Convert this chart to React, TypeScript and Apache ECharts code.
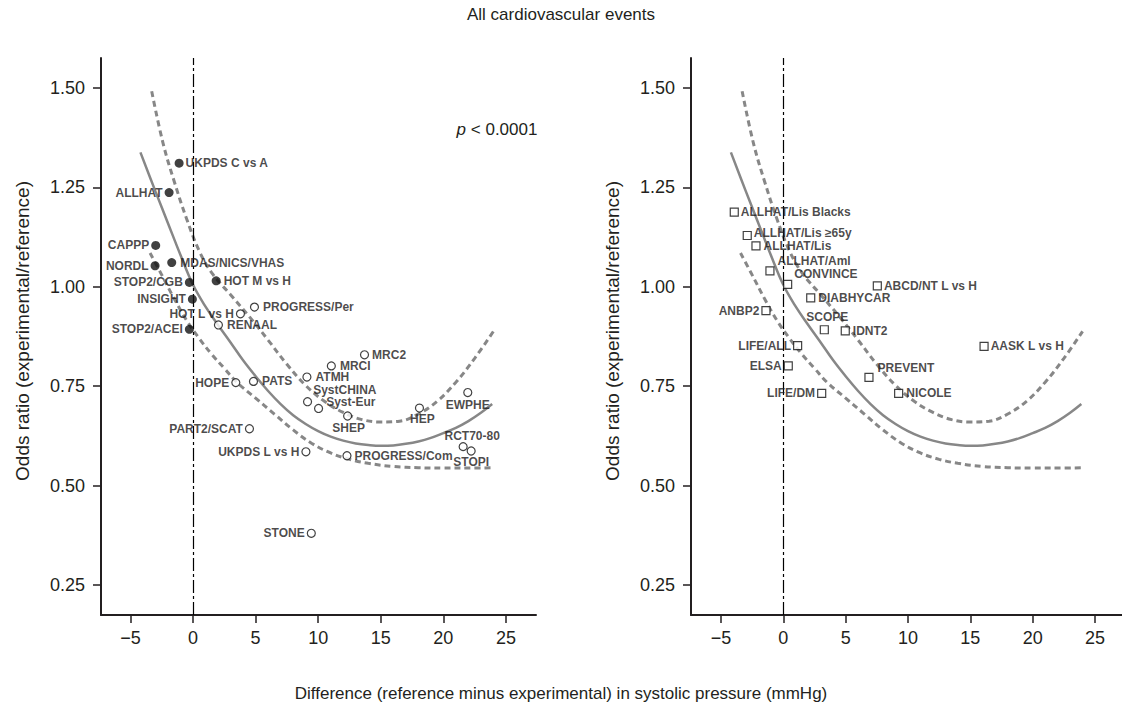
import React, { useEffect, useRef } from "react";
import * as echarts from "echarts";

// ---------- data ----------
const xTicks = [-5, 0, 5, 10, 15, 20, 25];
const yTicks = [0.25, 0.5, 0.75, 1.0, 1.25, 1.5];

// Left panel: filled circles
const filledNames = ["UKPDS C vs A", "ALLHAT", "CAPPP", "NORDL", "MDAS/NICS/VHAS", "STOP2/CGB", "HOT M vs H", "INSIGHT", "STOP2/ACEI"];
const filledX = [-1.11, -1.91, -2.98, -3.03, -1.7, -0.29, 1.85, -0.05, -0.29];
const filledY = [1.311, 1.237, 1.104, 1.053, 1.061, 1.011, 1.015, 0.969, 0.893];

// Left panel: open circles
const openNames = ["HOT L vs H", "PROGRESS/Per", "RENAAL", "MRC2", "MRCI", "ATMH", "HOPE", "PATS", "SystCHINA", "Syst-Eur", "SHEP", "HEP", "EWPHE", "PART2/SCAT", "RCT70-80", "STOPI", "UKPDS L vs H", "PROGRESS/Com", "STONE"];
const openX = [3.79, 4.91, 2.03, 13.7, 11.05, 9.1, 3.42, 4.83, 9.15, 10.03, 12.35, 18.09, 21.95, 4.51, 21.58, 22.22, 9.02, 12.3, 9.45];
const openY = [0.932, 0.949, 0.904, 0.829, 0.801, 0.773, 0.759, 0.762, 0.711, 0.694, 0.675, 0.695, 0.734, 0.643, 0.598, 0.587, 0.585, 0.575, 0.38];

// Right panel: open squares
const squareNames = ["ALLHAT/Lis Blacks", "ALLHAT/Lis \u226565y", "ALLHAT/Lis", "ALLHAT/Aml", "CONVINCE", "ABCD/NT L vs H", "DIABHYCAR", "ANBP2", "SCOPE", "IDNT2", "LIFE/ALL", "AASK L vs H", "ELSA", "PREVENT", "LIFE/DM", "NICOLE"];
const squareX = [-3.93, -2.89, -2.19, -1.07, 0.35, 7.54, 2.2, -1.39, 3.29, 4.97, 1.15, 16.1, 0.4, 6.87, 3.08, 9.25];
const squareY = [1.188, 1.129, 1.103, 1.04, 1.006, 1.0025, 0.972, 0.94, 0.892, 0.889, 0.852, 0.85, 0.801, 0.772, 0.732, 0.732];

// Fitted curve and its confidence limits
const solidCurve = [
  [-4.2, 1.338], [-3, 1.24], [-2, 1.16], [-1, 1.08], [0, 1.005], [1, 0.95], [2, 0.904], [3, 0.86],
  [4, 0.815], [5, 0.775], [6, 0.738], [7, 0.705], [8, 0.677], [9, 0.655], [10, 0.637], [11, 0.623],
  [12, 0.613], [13, 0.606], [14, 0.602], [15, 0.6], [16, 0.601], [17, 0.605], [18, 0.611], [19, 0.62],
  [20, 0.632], [21, 0.645], [22, 0.662], [23, 0.683], [23.9, 0.705],
];
const upperCurve = [
  [-3.3, 1.492], [-2.4, 1.362], [-1.5, 1.265], [-0.5, 1.17], [0.5, 1.09], [1.5, 1.035], [3, 0.98],
  [4.5, 0.925], [6, 0.866], [7.5, 0.805], [9, 0.752], [10.5, 0.712], [12, 0.684], [13.5, 0.666], [15, 0.66],
  [16.5, 0.662], [18, 0.68], [19.5, 0.712], [21, 0.76], [22.5, 0.82], [24, 0.888],
];
const lowerCurve = [
  [-3.43, 1.085], [-2.5, 1.03], [-1.5, 0.97], [-0.5, 0.915], [0.5, 0.87], [1.5, 0.83], [2.5, 0.795],
  [3.5, 0.76], [5, 0.72], [6.5, 0.68], [8, 0.64], [9.5, 0.606], [11, 0.582], [12.5, 0.566], [14, 0.556],
  [16, 0.548], [18, 0.545], [20, 0.544], [22, 0.544], [24, 0.545],
];

// ---------- label placement (style, not data) ----------
type Place = [string, number, number];
const placement: Record<string, Place> = {
  "UKPDS C vs A": ["right", 0, 0],
  ALLHAT: ["left", 0, 0],
  CAPPP: ["left", 0, 0],
  NORDL: ["left", 0, 0],
  "MDAS/NICS/VHAS": ["right", 2, 0],
  "STOP2/CGB": ["left", 0, 0],
  "HOT M vs H": ["right", 1, 0],
  INSIGHT: ["left", 0, 0],
  "STOP2/ACEI": ["left", 0, 0],
  "HOT L vs H": ["left", 0, 0],
  "PROGRESS/Per": ["right", 2, 0],
  RENAAL: ["right", 2, 0],
  MRC2: ["right", 1, 0],
  MRCI: ["right", 2, 0],
  ATMH: ["right", 2, 0],
  HOPE: ["left", 0, 0],
  PATS: ["right", 2, 0],
  SystCHINA: ["right", -1, -12],
  "Syst-Eur": ["right", 1, -6],
  SHEP: ["bottom", 1, -1],
  HEP: ["bottom", 3, -2],
  EWPHE: ["bottom", 0, 0],
  "PART2/SCAT": ["left", 0, 0],
  "RCT70-80": ["top", 9, 2],
  STOPI: ["bottom", 0, -2],
  "UKPDS L vs H": ["left", 0, 0],
  "PROGRESS/Com": ["right", 1, 0],
  STONE: ["left", 0, 0],
  "ALLHAT/Lis Blacks": ["right", 0, 0],
  "ALLHAT/Lis \u226565y": ["right", 0, -3],
  "ALLHAT/Lis": ["right", 1, 0],
  "ALLHAT/Aml": ["right", 1, -10],
  CONVINCE: ["right", 0, -10],
  "ABCD/NT L vs H": ["right", 0, 0],
  DIABHYCAR: ["right", 1, 0],
  ANBP2: ["left", 0, 0],
  SCOPE: ["top", 3, 0],
  IDNT2: ["right", 1, 0],
  "LIFE/ALL": ["left", 0, 0],
  "AASK L vs H": ["right", 0, 0],
  ELSA: ["left", 0, 0],
  PREVENT: ["right", 2, -9],
  "LIFE/DM": ["left", 0, 0],
  NICOLE: ["right", 1, 0],
};

const FONT = "'Liberation Sans', Arial, Helvetica, sans-serif";
const INK = "#231f20";
const CURVE = "#878787";

function points(names: string[], xs: number[], ys: number[]) {
  return names.map((n, i) => {
    const p = placement[n] || ["right", 0, 0];
    return {
      name: n,
      value: [xs[i], ys[i]],
      label: {
        show: true,
        formatter: n,
        position: p[0],
        distance: 2,
        offset: [p[1], p[2]],
      },
    };
  });
}

function axes(idx: number, min: number, max: number) {
  const x = {
    type: "value",
    gridIndex: idx,
    min,
    max,
    axisLine: { show: true, onZero: false, lineStyle: { color: INK, width: 2 } },
    axisTick: { show: true, length: 8, customValues: xTicks, lineStyle: { color: INK, width: 1.5 } },
    axisLabel: {
      show: true,
      customValues: xTicks,
      margin: 14,
      fontSize: 18,
      fontFamily: FONT,
      color: INK,
      formatter: (v: number) => (v < 0 ? "\u2212" + Math.abs(v) : String(v)),
    },
    splitLine: { show: false },
  };
  const y = {
    type: "value",
    gridIndex: idx,
    min: 0.1745,
    max: 1.5755,
    axisLine: { show: true, onZero: false, lineStyle: { color: INK, width: 2 } },
    axisTick: { show: true, length: 8, customValues: yTicks, lineStyle: { color: INK, width: 1.5 } },
    axisLabel: {
      show: true,
      customValues: yTicks,
      margin: 16,
      fontSize: 18,
      fontFamily: FONT,
      color: INK,
      formatter: (v: number) => v.toFixed(2),
    },
    splitLine: { show: false },
  };
  return { x, y };
}

function curveSeries(idx: number) {
  const base = { type: "line", xAxisIndex: idx, yAxisIndex: idx, showSymbol: false, symbol: "none", smooth: 0.4, silent: true, z: 2 };
  return [
    {
      ...base,
      data: solidCurve,
      lineStyle: { color: CURVE, width: 2.5 },
      markLine: {
        silent: true,
        symbol: ["none", "none"],
        label: { show: false },
        lineStyle: { color: "#000", width: 1.2, type: [13, 3, 3, 3] },
        data: [{ xAxis: 0 }],
      },
    },
    { ...base, data: upperCurve, lineStyle: { color: CURVE, width: 3, type: [6, 4] } },
    { ...base, data: lowerCurve, lineStyle: { color: CURVE, width: 3, type: [6, 4] } },
  ];
}

const labelStyle = { color: "#1c1a1b", fontSize: 12, fontWeight: "bold", fontFamily: FONT };

export default function App() {
  const ref = useRef<HTMLDivElement>(null);
  useEffect(() => {
    if (!ref.current) return;
    const chart = echarts.init(ref.current, null, { renderer: "svg" });
    const a0 = axes(0, -7.35, 27.4);
    const a1 = axes(1, -7.4, 27.16);
    chart.setOption({
      animation: false,
      backgroundColor: "#ffffff",
      textStyle: { fontFamily: FONT },
      grid: [
        { left: 101, top: 58, width: 435, height: 557 },
        { left: 691, top: 58, width: 431, height: 557 },
      ],
      xAxis: [a0.x, a1.x],
      yAxis: [a0.y, a1.y],
      series: [
        ...curveSeries(0),
        ...curveSeries(1),
        {
          type: "scatter",
          xAxisIndex: 0,
          yAxisIndex: 0,
          symbol: "circle",
          symbolSize: 9,
          itemStyle: { color: "#111", borderColor: "#111", borderWidth: 0 },
          label: labelStyle,
          z: 5,
          data: points(filledNames, filledX, filledY),
        },
        {
          type: "scatter",
          xAxisIndex: 0,
          yAxisIndex: 0,
          symbol: "circle",
          symbolSize: 8,
          itemStyle: { color: "#ffffff", borderColor: "#111", borderWidth: 1.2 },
          label: labelStyle,
          z: 5,
          data: points(openNames, openX, openY),
        },
        {
          type: "scatter",
          xAxisIndex: 1,
          yAxisIndex: 1,
          symbol: "rect",
          symbolSize: 8,
          itemStyle: { color: "#ffffff", borderColor: "#111", borderWidth: 1.2 },
          label: labelStyle,
          z: 5,
          data: points(squareNames, squareX, squareY),
        },
      ],
      graphic: [
        {
          type: "text",
          x: 561,
          y: 14,
          style: { text: "All cardiovascular events", fill: INK, font: `17px ${FONT}`, textAlign: "center", textVerticalAlign: "middle" },
        },
        {
          type: "text",
          x: 497,
          y: 129,
          style: {
            text: "{i|p} < 0.0001",
            fill: INK,
            font: `17px ${FONT}`,
            textAlign: "center",
            textVerticalAlign: "middle",
            rich: { i: { fontStyle: "italic", fontSize: 17, fontFamily: FONT, fill: INK } },
          },
        },
        {
          type: "text",
          x: 561,
          y: 693,
          style: {
            text: "Difference (reference minus experimental) in systolic pressure (mmHg)",
            fill: INK,
            font: `17px ${FONT}`,
            textAlign: "center",
            textVerticalAlign: "middle",
          },
        },
        {
          type: "text",
          x: 22,
          y: 331,
          rotation: Math.PI / 2,
          style: { text: "Odds ratio (experimental/reference)", fill: INK, font: `19px ${FONT}`, textAlign: "center", textVerticalAlign: "middle" },
        },
        {
          type: "text",
          x: 612,
          y: 331,
          rotation: Math.PI / 2,
          style: { text: "Odds ratio (experimental/reference)", fill: INK, font: `19px ${FONT}`, textAlign: "center", textVerticalAlign: "middle" },
        },
      ],
    });
    return () => chart.dispose();
  }, []);
  return <div ref={ref} style={{ position: "fixed", left: 0, top: 0, width: 1122, height: 710, background: "#fff" }} />;
}
